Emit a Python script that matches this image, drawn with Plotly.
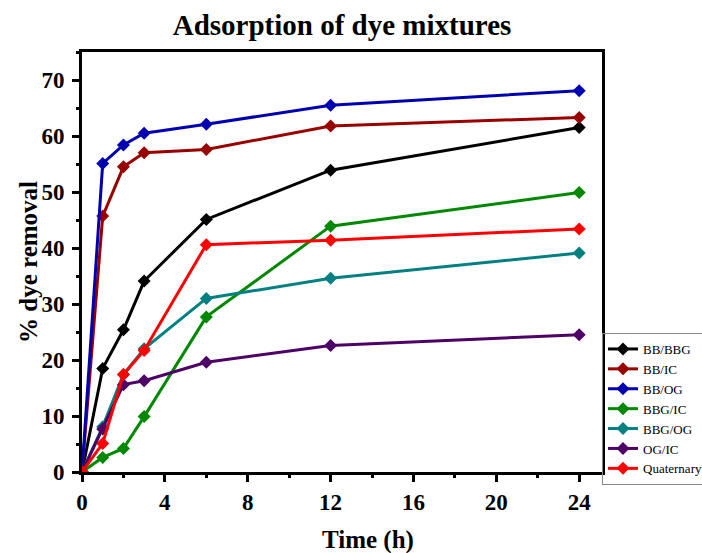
import plotly.graph_objects as go

time_h = [0, 1, 2, 3, 6, 12, 24]
series_names = ["BB/BBG", "BB/IC", "BB/OG", "BBG/IC", "BBG/OG", "OG/IC", "Quaternary"]
bb_bbg = [0, 18.5, 25.4, 34.1, 45.1, 53.9, 61.5]
bb_ic = [0, 45.7, 54.5, 57.0, 57.6, 61.8, 63.3]
bb_og = [0, 55.1, 58.4, 60.5, 62.1, 65.5, 68.1]
bbg_ic = [0, 2.6, 4.2, 9.9, 27.7, 43.9, 49.9]
bbg_og = [0, 8.1, 17.4, 22.0, 31.0, 34.6, 39.1]
og_ic = [0, 7.7, 15.6, 16.3, 19.6, 22.6, 24.5]
quaternary = [0, 5.1, 17.4, 21.7, 40.6, 41.4, 43.4]
series_values = [bb_bbg, bb_ic, bb_og, bbg_ic, bbg_og, og_ic, quaternary]
colors = ["#000000", "#990000", "#0000B0", "#008800", "#008080", "#4D0066", "#FF0000"]

FONT = "Liberation Serif, Times New Roman, serif"

fig = go.Figure()
for name, vals, col in zip(series_names, series_values, colors):
    fig.add_trace(go.Scatter(
        x=time_h, y=vals, name=name, mode="lines+markers",
        line=dict(color=col, width=3),
        marker=dict(symbol="diamond", size=10, color=col),
    ))

fig.update_layout(
    width=702, height=553,
    margin=dict(l=82, r=100, t=52, b=81, autoexpand=False),
    plot_bgcolor="white", paper_bgcolor="white",
    font=dict(family=FONT, color="black"),
    title=dict(text="<b>Adsorption of dye mixtures</b>", x=0.5, xref="paper",
               xanchor="center", y=1 - 25 / 553, yanchor="middle",
               font=dict(size=29, family=FONT, color="black")),
    showlegend=True,
    legend=dict(x=1.0, xanchor="left", y=(472 - 333) / 420, yanchor="top",
                bgcolor="rgba(0,0,0,0)", bordercolor="#888888", borderwidth=1,
                font=dict(size=13, family=FONT, color="black"),
                tracegroupgap=0, itemwidth=30),
    annotations=[
        dict(text="<b>Time (h)</b>", xref="paper", yref="paper",
             x=(368 - 82) / 520, y=-(540 - 472) / 420,
             xanchor="center", yanchor="middle", showarrow=False,
             font=dict(size=25, family=FONT, color="black")),
        dict(text="<b>% dye removal</b>", xref="paper", yref="paper",
             x=(28 - 82) / 520, y=0.5, textangle=-90,
             xanchor="center", yanchor="middle", showarrow=False,
             font=dict(size=25, family=FONT, color="black")),
    ],
)

fig.update_xaxes(
    range=[0, 25.1], tickmode="array", tickvals=[0, 4, 8, 12, 16, 20, 24],
    ticks="outside", ticklen=7, tickwidth=3, tickcolor="black",
    showline=True, linewidth=3, linecolor="black", mirror=True,
    showgrid=False, zeroline=False,
    tickfont=dict(size=23, family=FONT, color="black", weight="bold"),
    minor=dict(dtick=2, tick0=0, ticks="outside", ticklen=3, tickwidth=3, tickcolor="black"),
)
fig.update_yaxes(
    range=[0, 75], tickmode="array", tickvals=[0, 10, 20, 30, 40, 50, 60, 70],
    ticks="outside", ticklen=7, tickwidth=3, tickcolor="black",
    showline=True, linewidth=3, linecolor="black", mirror=True,
    showgrid=False, zeroline=False, ticklabelstandoff=3,
    tickfont=dict(size=23, family=FONT, color="black", weight="bold"),
    minor=dict(dtick=5, tick0=0, ticks="outside", ticklen=3, tickwidth=3, tickcolor="black"),
)

fig.write_html("out.html")
